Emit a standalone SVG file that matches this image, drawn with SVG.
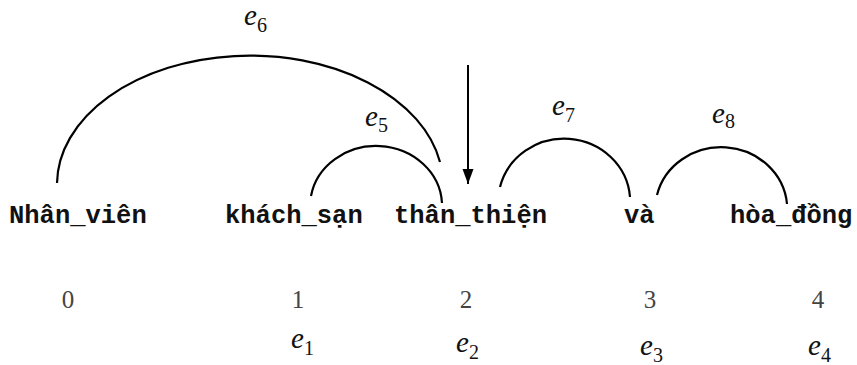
<svg xmlns="http://www.w3.org/2000/svg" width="857" height="365" viewBox="0 0 857 365">
<style>
.w{font-family:"Liberation Mono","Courier New",monospace;font-weight:bold;font-size:25.5px;fill:#111}
.n{font-family:"Liberation Serif","Times New Roman",serif;font-size:25px;fill:#444;text-anchor:middle}
.e{font-family:"Liberation Serif","Times New Roman",serif;font-style:italic;font-size:29px;fill:#111}
.s{font-family:"Liberation Serif","Times New Roman",serif;font-style:normal;font-size:20px;fill:#111}
.arc{fill:none;stroke:#000;stroke-width:2.2}
</style>
<defs>
<marker id="ah" markerWidth="16" markerHeight="12" refX="15" refY="6" orient="auto" markerUnits="userSpaceOnUse" viewBox="0 0 16 12">
<path d="M0,0.5 L15,6 L0,11.5 Z" fill="#000"/>
</marker>
</defs>
<g id="connectors">
<path id="e6" class="arc" d="M57,183 A193,129 0 0 1 440,162"/>
<path id="e5" class="arc" d="M311,196 A66,60 0 0 1 442,203"/>
<path id="e7" class="arc" d="M500,187 A66,63 0 0 1 630,197"/>
<path id="e8" class="arc" d="M657,195 A66,62 0 0 1 787,204"/>
<line id="root" x1="468" y1="65" x2="468" y2="184" stroke="#000" stroke-width="2" marker-end="url(#ah)"/>
</g>
<g id="edge-labels">
<text class="e" x="244" y="25">e<tspan class="s" dy="7">6</tspan></text>
<text class="e" x="365" y="126">e<tspan class="s" dy="6">5</tspan></text>
<text class="e" x="552" y="115">e<tspan class="s" dy="7">7</tspan></text>
<text class="e" x="712" y="123">e<tspan class="s" dy="5">8</tspan></text>
</g>
<g id="node0"><text class="w" x="9" y="223">Nhân_viên</text><text class="n" x="68" y="308">0</text></g>
<g id="node1"><text class="w" x="225" y="223">khách_sạn</text><text class="n" x="298" y="308">1</text><text class="e" x="291" y="348">e<tspan class="s" dy="7">1</tspan></text></g>
<g id="node2"><text class="w" x="394" y="223">thân_thiện</text><text class="n" x="466" y="308">2</text><text class="e" x="456" y="352">e<tspan class="s" dy="7">2</tspan></text></g>
<g id="node3"><text class="w" x="624" y="223">và</text><text class="n" x="650" y="308">3</text><text class="e" x="640" y="355">e<tspan class="s" dy="7">3</tspan></text></g>
<g id="node4"><text class="w" x="730" y="223">hòa_đồng</text><text class="n" x="818" y="308">4</text><text class="e" x="808" y="355">e<tspan class="s" dy="7">4</tspan></text></g>
</svg>
